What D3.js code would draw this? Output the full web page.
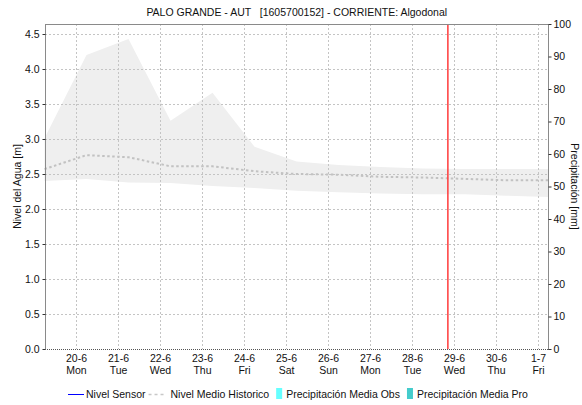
<!DOCTYPE html>
<html>
<head>
<meta charset="utf-8">
<script src="https://cdn.jsdelivr.net/npm/d3@7"></script>
<style>
  html, body { margin: 0; padding: 0; background: #fff; }
  svg { display: block; font-family: "Liberation Sans", Arial, sans-serif; }
  text { white-space: pre; }
</style>
</head>
<body>
<svg id="chart" width="582" height="405"></svg>
<script>
// Station and series
const chartTitle = "PALO GRANDE - AUT   [1605700152] - CORRIENTE: Algodonal";
const sampleTimes = [
  "2022-06-19T06:00", "2022-06-20T06:00", "2022-06-21T06:00", "2022-06-22T06:00",
  "2022-06-23T06:00", "2022-06-24T06:00", "2022-06-25T06:00", "2022-06-26T06:00",
  "2022-06-27T06:00", "2022-06-28T06:00", "2022-06-29T06:00", "2022-06-30T06:00",
  "2022-07-01T06:00"
];
const histUpper = [3.01, 4.20, 4.43, 3.26, 3.66, 2.89, 2.68, 2.63, 2.60, 2.58, 2.57, 2.57, 2.57];
const histLower = [2.40, 2.43, 2.38, 2.37, 2.33, 2.30, 2.26, 2.24, 2.22, 2.21, 2.21, 2.19, 2.17];
const histMean  = [2.57, 2.77, 2.74, 2.61, 2.61, 2.54, 2.50, 2.49, 2.46, 2.45, 2.43, 2.41, 2.41];
const sensorLevel = [];   // no sensor readings in this window
const precipObs = [];     // observed precipitation (mm)
const precipPro = [];     // forecast precipitation (mm)
const levelTicks = [0, 0.5, 1, 1.5, 2, 2.5, 3, 3.5, 4, 4.5];
const precipTicks = [0, 10, 20, 30, 40, 50, 60, 70, 80, 90, 100];
const dayTicks = [
  "2022-06-20", "2022-06-21", "2022-06-22", "2022-06-23", "2022-06-24", "2022-06-25",
  "2022-06-26", "2022-06-27", "2022-06-28", "2022-06-29", "2022-06-30", "2022-07-01"
];
const currentTime = "2022-06-28T20:30";
const timeRange = ["2022-06-19T06:00", "2022-07-01T06:00"];
const legendItems = [
  { label: "Nivel Sensor", kind: "line" },
  { label: "Nivel Medio Historico", kind: "dash" },
  { label: "Precipitación Media Obs", kind: "box", color: "#66ffff" },
  { label: "Precipitación Media Pro", kind: "box", color: "#44cccc" }
];

const parseT = d3.timeParse("%Y-%m-%dT%H:%M");
const parseD = d3.timeParse("%Y-%m-%d");

const m = { left: 45, right: 548.5, top: 24, bottom: 349 };
const svg = d3.select("#chart");
const FS = 10.5;

const x = d3.scaleTime().domain(timeRange.map(parseT)).range([m.left - 0.5, m.right]);
const yL = d3.scaleLinear().domain([0, 4.643]).range([m.bottom, m.top]);
const yR = d3.scaleLinear().domain([0, 100]).range([m.bottom, m.top]);

const rows = sampleTimes.map((t, i) => ({
  t: parseT(t), hi: histUpper[i], lo: histLower[i], mean: histMean[i]
}));

// historic range band
svg.append("path")
  .datum(rows)
  .attr("fill", "#efefef")
  .attr("d", d3.area().x(d => x(d.t)).y0(d => yL(d.lo)).y1(d => yL(d.hi)));

// grid
const grid = svg.append("g").attr("stroke", "#c4c4c4").attr("stroke-dasharray", "2,2").attr("stroke-width", 1);
grid.selectAll("line.h").data(levelTicks.filter(v => v > 0)).join("line")
  .attr("x1", m.left).attr("x2", m.right)
  .attr("y1", d => Math.round(yL(d)) + 0.5).attr("y2", d => Math.round(yL(d)) + 0.5);
grid.selectAll("line.v").data(dayTicks.map(parseD)).join("line")
  .attr("x1", d => Math.round(x(d)) + 0.5).attr("x2", d => Math.round(x(d)) + 0.5)
  .attr("y1", m.top).attr("y2", m.bottom);

// precipitation bars (none in range)
const barW = 6;
svg.append("g").selectAll("rect").data(precipObs).join("rect")
  .attr("fill", "#66ffff")
  .attr("x", d => x(parseT(d.t)) - barW).attr("width", barW)
  .attr("y", d => yR(d.v)).attr("height", d => yR(0) - yR(d.v));
svg.append("g").selectAll("rect").data(precipPro).join("rect")
  .attr("fill", "#44cccc")
  .attr("x", d => x(parseT(d.t))).attr("width", barW)
  .attr("y", d => yR(d.v)).attr("height", d => yR(0) - yR(d.v));

// historic mean
svg.append("path")
  .datum(rows)
  .attr("fill", "none")
  .attr("stroke", "#c2c2c2")
  .attr("stroke-width", 2)
  .attr("stroke-dasharray", "2.5,2.5")
  .attr("d", d3.line().x(d => x(d.t)).y(d => yL(d.mean)));

// sensor level
svg.append("path")
  .datum(sensorLevel)
  .attr("fill", "none")
  .attr("stroke", "#0000ff")
  .attr("d", d3.line().x(d => x(parseT(d.t))).y(d => yL(d.v)));

// current time marker
const nowX = x(parseT(currentTime));
svg.append("line")
  .attr("x1", nowX).attr("x2", nowX).attr("y1", m.top).attr("y2", m.bottom)
  .attr("stroke", "#ff3b3b").attr("stroke-width", 1.5);

// frame
svg.append("line").attr("x1", m.left).attr("x2", m.right).attr("y1", m.top + 0.5).attr("y2", m.top + 0.5)
  .attr("stroke", "#8a8a8a");
svg.append("line").attr("x1", m.left).attr("x2", m.right).attr("y1", m.bottom + 0.5).attr("y2", m.bottom + 0.5)
  .attr("stroke", "#555").attr("stroke-dasharray", "1,1");

// left axis
const axL = svg.append("g").attr("transform", `translate(${m.left + 0.5},0)`)
  .call(d3.axisLeft(yL).tickValues(levelTicks).tickFormat(d3.format(".1f")).tickSize(3).tickPadding(3));
axL.select(".domain").attr("stroke", "#8a8a8a").attr("d", `M0,${m.top}V${m.bottom + 1}`);
axL.selectAll(".tick line").attr("stroke", "#333");
axL.selectAll(".tick text").attr("font-size", FS).attr("fill", "#111").attr("font-family", null);

// right axis
const axR = svg.append("g").attr("transform", `translate(${m.right},0)`)
  .call(d3.axisRight(yR).tickValues(precipTicks).tickSize(3).tickPadding(2));
axR.select(".domain").attr("stroke", "#8a8a8a").attr("d", `M0,${m.top}V${m.bottom + 1}`);
axR.selectAll(".tick line").attr("stroke", "#333");
axR.selectAll(".tick text").attr("font-size", FS).attr("fill", "#111").attr("font-family", null);

// bottom axis: two-line day labels
const axB = svg.append("g").attr("transform", `translate(0,${m.bottom})`)
  .call(d3.axisBottom(x).tickValues(dayTicks.map(parseD)).tickSize(0).tickFormat(""));
axB.select(".domain").remove();
const fmtDay = d3.timeFormat("%-d-%-m"), fmtWk = d3.timeFormat("%a");
axB.selectAll(".tick").each(function(d) {
  const g = d3.select(this);
  g.append("text").attr("y", 13).attr("text-anchor", "middle").attr("fill", "#111")
    .attr("font-size", FS).text(fmtDay(d));
  g.append("text").attr("y", 25).attr("text-anchor", "middle").attr("fill", "#111")
    .attr("font-size", FS).text(fmtWk(d));
});

// title
svg.append("text").attr("x", (m.left + m.right) / 2).attr("y", 16)
  .attr("text-anchor", "middle").attr("font-size", FS).attr("fill", "#111")
  .text(chartTitle);

// axis titles
svg.append("text")
  .attr("transform", `translate(21,${(m.top + m.bottom) / 2}) rotate(-90)`)
  .attr("text-anchor", "middle").attr("font-size", FS).attr("fill", "#111")
  .text("Nivel del Agua [m]");
svg.append("text")
  .attr("transform", `translate(571,${(m.top + m.bottom) / 2}) rotate(90)`)
  .attr("text-anchor", "middle").attr("font-size", FS).attr("fill", "#111")
  .text("Precipitación [mm]");

// legend
const leg = svg.append("g").attr("transform", "translate(0,398)");
let lx = 68;
legendItems.forEach(it => {
  if (it.kind === "line") {
    leg.append("line").attr("x1", lx).attr("x2", lx + 16).attr("y1", -3.5).attr("y2", -3.5)
      .attr("stroke", "#0000ff");
    lx += 18;
  } else if (it.kind === "dash") {
    lx -= 4;
    leg.append("line").attr("x1", lx).attr("x2", lx + 18).attr("y1", -3.5).attr("y2", -3.5)
      .attr("stroke", "#c8c8c8").attr("stroke-width", 1.5).attr("stroke-dasharray", "3,3");
    lx += 22;
  } else {
    leg.append("rect").attr("x", lx).attr("y", -10).attr("width", 6).attr("height", 11)
      .attr("fill", it.color);
    lx += 10;
  }
  const t = leg.append("text").attr("x", lx).attr("y", 0).attr("font-size", FS).attr("fill", "#111").text(it.label);
  lx += t.node().getComputedTextLength() + 7;
});
</script>
</body>
</html>
